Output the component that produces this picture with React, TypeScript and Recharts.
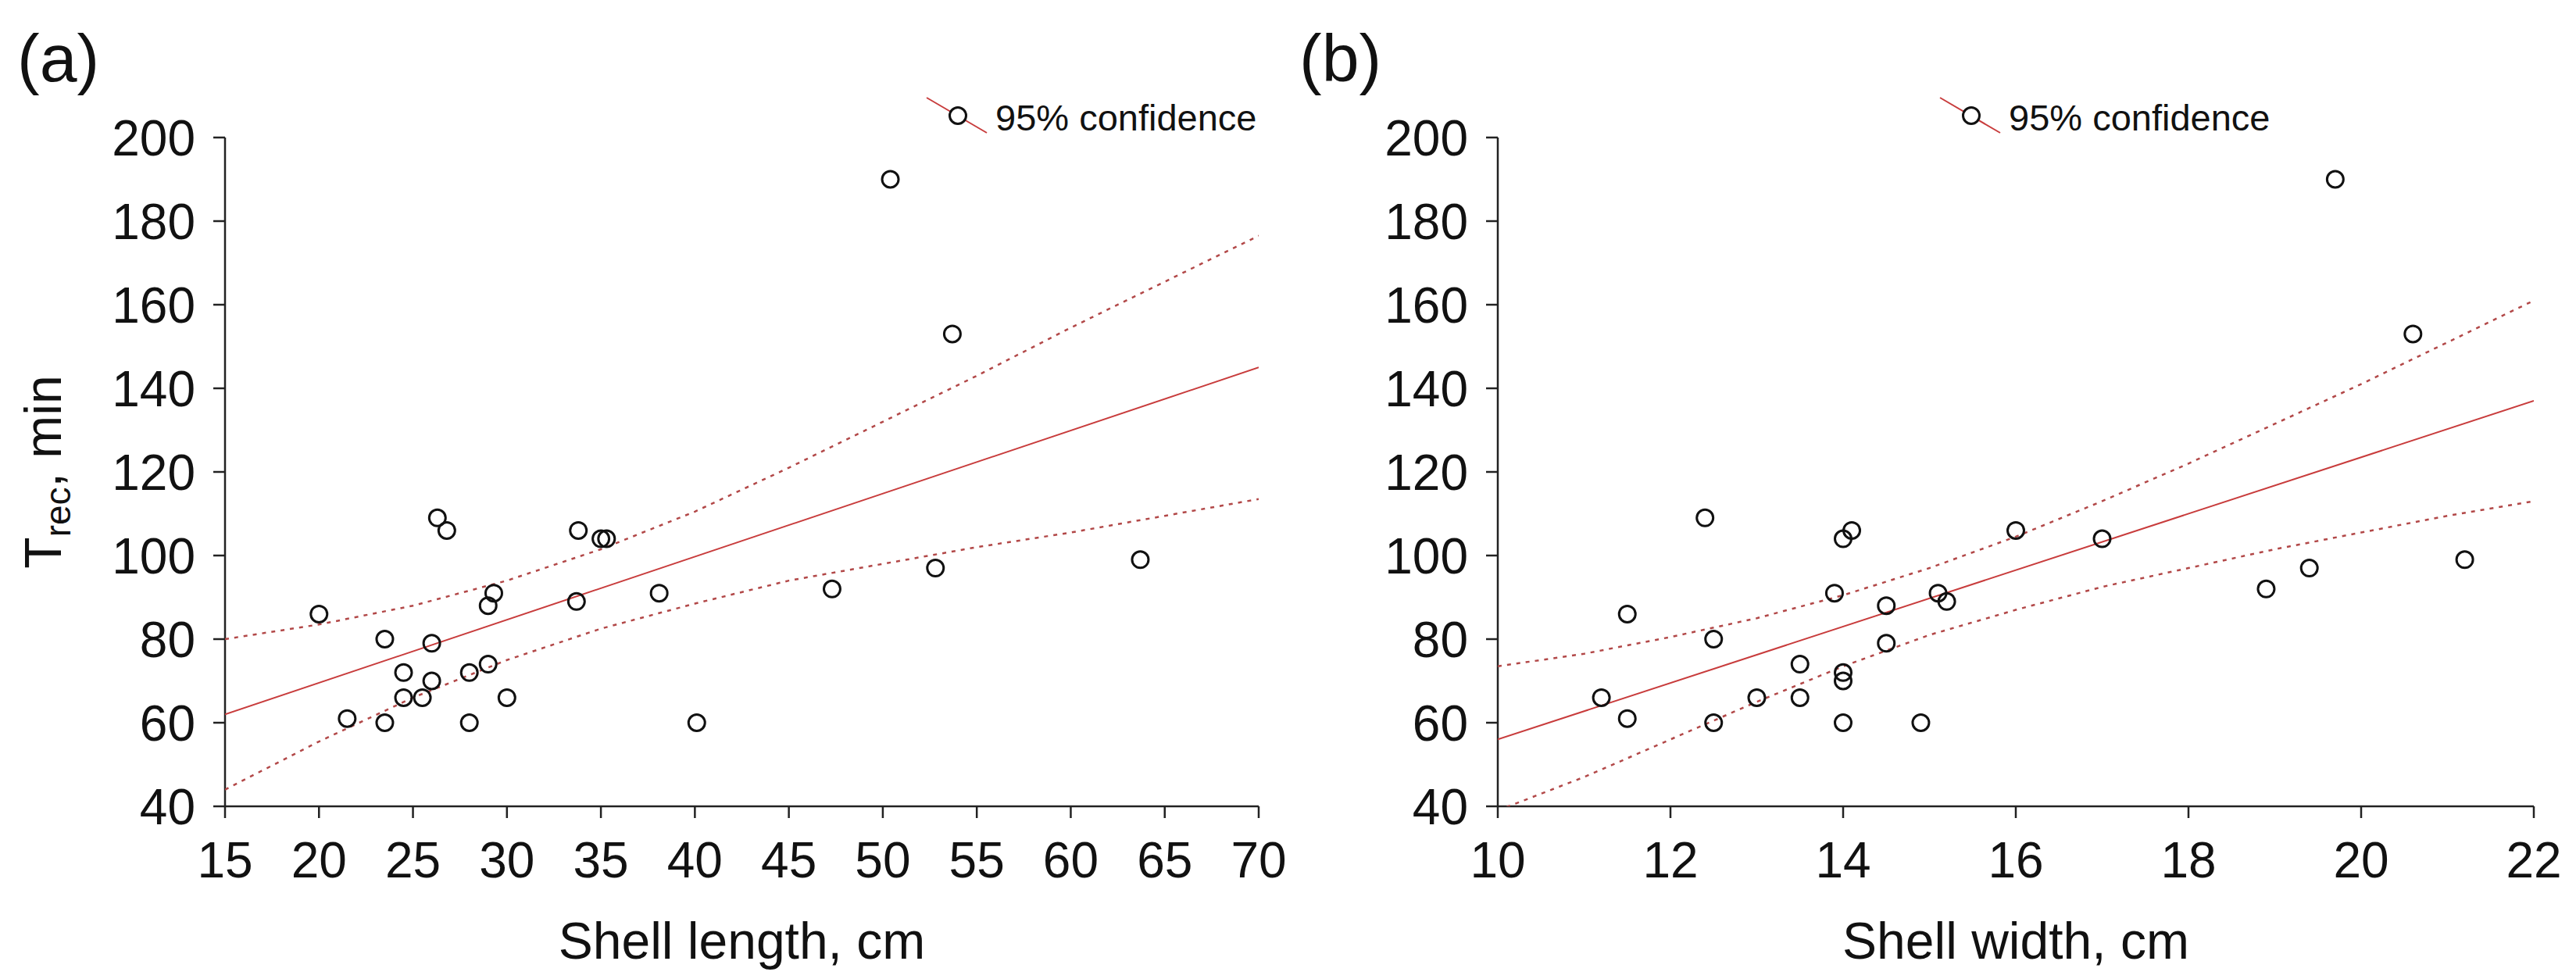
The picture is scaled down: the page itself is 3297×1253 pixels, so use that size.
import React from 'react';
import { ScatterChart, Scatter, XAxis, YAxis, Customized } from 'recharts';

const FONT = '"Liberation Sans", Arial, Helvetica, sans-serif';

// ---------- Panel (a): shell length ----------
const lengthX = [20, 21.5, 23.5, 23.5, 24.5, 24.5, 25.5, 26, 26, 26.3, 26.8, 28, 28, 29, 29.3, 29, 30, 33.7, 33.8, 35, 35.3, 38.1, 40.1, 47.3, 50.4, 52.8, 53.7, 63.7];
const lengthY = [86, 61, 80, 60, 72, 66, 66, 79, 70, 109, 106, 72, 60, 88, 91, 74, 66, 89, 106, 104, 104, 91, 60, 92, 190, 97, 153, 99];
const fitAX = [15, 70];
const fitAY = [62, 145];
const ciAX = [15, 20, 25, 30, 35, 40, 45, 50, 55, 60, 65, 70];
const ciAUpper = [80, 83.5, 88, 94, 101.5, 110.5, 121, 132, 143, 154.5, 165.5, 176.5];
const ciALower = [44, 55.5, 66, 75, 82.5, 88.5, 94, 98, 102, 105.5, 109.5, 113.5];
const xTicksA = [15, 20, 25, 30, 35, 40, 45, 50, 55, 60, 65, 70];

// ---------- Panel (b): shell width ----------
const widthX = [11.2, 11.5, 11.5, 12.4, 12.5, 12.5, 13, 13.5, 13.5, 13.9, 14, 14, 14, 14, 14.1, 14.5, 14.5, 14.9, 15.1, 15.2, 16, 17, 18.9, 19.4, 19.7, 20.6, 21.2];
const widthY = [66, 86, 61, 109, 80, 60, 66, 74, 66, 91, 104, 72, 70, 60, 106, 88, 79, 60, 91, 89, 106, 104, 92, 97, 190, 153, 99];
const fitBX = [10, 22];
const fitBY = [56, 137];
const ciBX = [10, 11, 12, 13, 14, 15, 16, 17, 18, 19, 20, 21, 22];
const ciBUpper = [73.5, 76.5, 80.5, 85, 90.5, 97, 104.5, 113, 122, 131.5, 141, 151, 161];
const ciBLower = [39, 47, 56, 65, 73.5, 81, 87, 92.5, 97, 101.5, 105.5, 109.5, 113];
const xTicksB = [10, 12, 14, 16, 18, 20, 22];

const yTicks = [40, 60, 80, 100, 120, 140, 160, 180, 200];
const legendText = '95% confidence';

const pts = (xs: number[], ys: number[]) => xs.map((x, i) => ({ x, y: ys[i] }));

const H = 1253;
const TOP = 176;
const XAXIS_H = 221;
const LINE_RED = '#c83c3c';
const DOT_RED = '#b24848';

const Ring = (props: any) => {
  const { cx, cy } = props;
  if (cx == null || cy == null) return <g />;
  return <circle cx={cx} cy={cy} r={10.5} fill="none" stroke="#111" strokeWidth={3} />;
};
const NoShape = () => <g />;

type PanelProps = {
  width: number;
  yAxisWidth: number;
  marginRight: number;
  xDomain: [number, number];
  xTicks: number[];
  points: { x: number; y: number }[];
  fit: { x: number; y: number }[];
  upper: { x: number; y: number }[];
  lower: { x: number; y: number }[];
  xTitle: string;
  panelLabel: string;
  panelLabelX: number;
  legendX: number;
  showYTitle: boolean;
};

function Panel(p: PanelProps) {
  const plotLeft = p.yAxisWidth;
  const plotRight = p.width - p.marginRight;
  const cx = (plotLeft + plotRight) / 2;
  const plotMid = (TOP + (H - XAXIS_H)) / 2;
  const axisStyle = { stroke: '#222', strokeWidth: 2.5 };
  const tickStyle = { fontSize: 64, fill: '#111', fontFamily: FONT };
  const lx = p.legendX;
  const overlay = () => (
    <g fontFamily={FONT} fill="#111">
      <text x={p.panelLabelX} y={104} fontSize={86}>{p.panelLabel}</text>
      <text x={cx} y={1227} fontSize={66} textAnchor="middle">{p.xTitle}</text>
      {p.showYTitle && (
        <text x={78} y={plotMid} fontSize={66} textAnchor="middle" transform={`rotate(-90, 78, ${plotMid})`}>
          T<tspan dy={12} fontSize={46}>rec</tspan><tspan dy={-12}>, min</tspan>
        </text>
      )}
      <line x1={lx - 40} y1={125} x2={lx + 37} y2={170} stroke={LINE_RED} strokeWidth={2} />
      <circle cx={lx} cy={148} r={10.5} fill="#fff" stroke="#111" strokeWidth={3} />
      <text x={lx + 48} y={167} fontSize={47}>{legendText}</text>
    </g>
  );
  return (
    <ScatterChart
      width={p.width}
      height={H}
      margin={{ top: TOP, right: p.marginRight, bottom: 0, left: 0 }}
      style={{ overflow: 'visible' }}
    >
      <XAxis
        type="number"
        dataKey="x"
        domain={p.xDomain}
        ticks={p.xTicks}
        interval={0}
        allowDataOverflow
        height={XAXIS_H}
        tickSize={15}
        tickMargin={31}
        tick={tickStyle}
        axisLine={axisStyle}
        tickLine={axisStyle}
      />
      <YAxis
        type="number"
        dataKey="y"
        domain={[40, 200]}
        ticks={yTicks}
        interval={0}
        allowDataOverflow
        width={p.yAxisWidth}
        tickSize={15}
        tickMargin={23}
        tick={tickStyle}
        axisLine={axisStyle}
        tickLine={axisStyle}
      />
      <Scatter data={p.upper} shape={NoShape} line={{ stroke: DOT_RED, strokeWidth: 2.5, strokeDasharray: '5 7' }} isAnimationActive={false} />
      <Scatter data={p.lower} shape={NoShape} line={{ stroke: DOT_RED, strokeWidth: 2.5, strokeDasharray: '5 7' }} isAnimationActive={false} />
      <Scatter data={p.fit} shape={NoShape} line={{ stroke: LINE_RED, strokeWidth: 2 }} isAnimationActive={false} />
      <Scatter data={p.points} shape={Ring} isAnimationActive={false} />
      <Customized component={overlay} />
    </ScatterChart>
  );
}

export default function App() {
  return (
    <div style={{ position: 'absolute', left: 0, top: 0, width: 3297, height: H, display: 'flex', background: '#fff' }}>
      <Panel
        width={1655}
        yAxisWidth={288}
        marginRight={44}
        xDomain={[15, 70]}
        xTicks={xTicksA}
        points={pts(lengthX, lengthY)}
        fit={pts(fitAX, fitAY)}
        upper={pts(ciAX, ciAUpper)}
        lower={pts(ciAX, ciALower)}
        xTitle="Shell length, cm"
        panelLabel="(a)"
        panelLabelX={22}
        legendX={1226}
        showYTitle={true}
      />
      <Panel
        width={1642}
        yAxisWidth={262}
        marginRight={54}
        xDomain={[10, 22]}
        xTicks={xTicksB}
        points={pts(widthX, widthY)}
        fit={pts(fitBX, fitBY)}
        upper={pts(ciBX, ciBUpper)}
        lower={pts(ciBX, ciBLower)}
        xTitle="Shell width, cm"
        panelLabel="(b)"
        panelLabelX={8}
        legendX={868}
        showYTitle={false}
      />
    </div>
  );
}
